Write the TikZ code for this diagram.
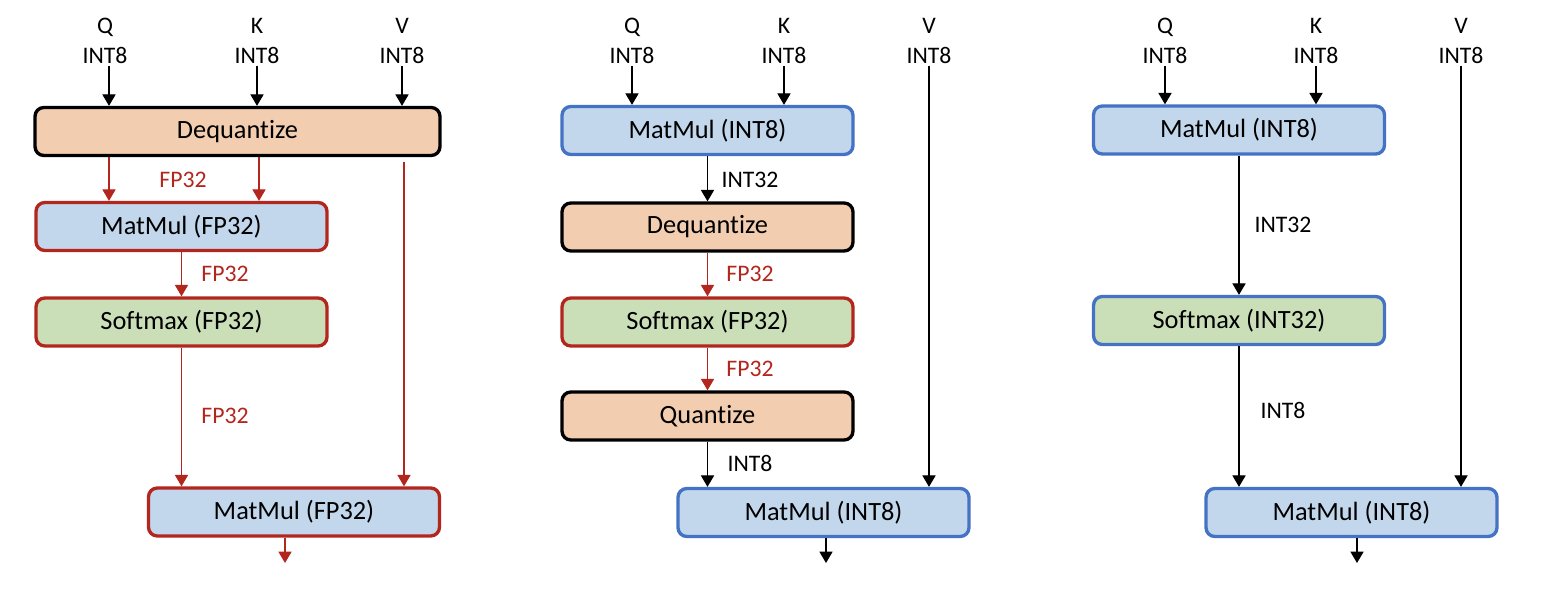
\documentclass[tikz,border=0pt]{standalone}
\usepackage{fontspec}
\setmainfont{Carlito}[Ligatures=NoCommon]
\usepackage{xcolor}
\usetikzlibrary{arrows.meta, positioning}

\definecolor{fpred}{HTML}{B3261E}
\definecolor{intblue}{HTML}{4472C4}
\definecolor{mmfill}{HTML}{C3D7EC}
\definecolor{smfill}{HTML}{CADFB8}
\definecolor{qfill}{HTML}{F2CDB0}

\begin{document}
\begin{tikzpicture}[x=0.02cm, y=-0.02cm, >={Triangle[width=7.5pt, length=6.5pt]}, line width=0.65pt,
    op/.style={rectangle, rounded corners=5pt, draw, line width=1.9pt, minimum width=5.82cm, minimum height=0.96cm, inner sep=0pt, font=\fontsize{15}{17}\selectfont},
    mm/.style={op, fill=mmfill},
    sm/.style={op, fill=smfill},
    qz/.style={op, fill=qfill, draw=black},
    fp/.style={draw=fpred},
    ib/.style={draw=intblue},
    inp/.style={align=center, inner sep=1pt, font=\fontsize{13.5}{17}\selectfont},
    lbl/.style={inner sep=0pt, font=\fontsize{13.5}{15}\selectfont}]

    \useasboundingbox (0,0) rectangle (1562,598);

    % FP32 path
    \node[inp] (Q1) at (105,41) {Q\\INT8};
    \node[inp] (K1) at (257,41) {K\\INT8};
    \node[inp] (V1) at (402,41) {V\\INT8};
    \node[qz, minimum width=8.1cm] (Deq1) at (237.5,131.5) {Dequantize};
    \node[mm, fp] (Mm1) at (181.5,226.5) {MatMul (FP32)};
    \node[sm, fp] (Sm1) at (181.5,322) {Softmax (FP32)};
    \node[mm, fp] (Mmo1) at (294,512) {MatMul (FP32)};
    \coordinate (out1) at (285,563);

    \node[lbl, text=fpred] (l11) at (183,180) {FP32};
    \node[lbl, text=fpred] (l12) at (225,274) {FP32};
    \node[lbl, text=fpred] (l13) at (225,416) {FP32};

    \path[->]
    (Q1.south -| 109,0) edge (Deq1.north -| 109,0)
    (K1.south) edge (Deq1.north -| K1)
    (V1.south) edge (Deq1.north -| V1)
    ;
    \path[->, fpred]
    (Deq1.south -| 109,0) edge (Mm1.north -| 109,0)
    (Deq1.south -| 259,0) edge (Mm1.north -| 259,0)
    (Deq1.south -| 404,0) edge[shorten <=3pt] (Mmo1.north -| 404,0)
    (Mm1.south) edge (Sm1.north)
    (Sm1.south) edge (Sm1.south |- Mmo1.north)
    (Mmo1.south -| out1) edge (out1)
    ;

    % INT8 MatMul, FP32 Softmax
    \node[inp] (Q2) at (632,41) {Q\\INT8};
    \node[inp] (K2) at (784,41) {K\\INT8};
    \node[inp] (V2) at (929,41) {V\\INT8};
    \node[mm, ib] (Mm2) at (707.5,130.5) {MatMul (INT8)};
    \node[qz] (Deq2) at (707.5,227) {Dequantize};
    \node[sm, fp] (Sm2) at (707.5,322) {Softmax (FP32)};
    \node[qz] (Qu2) at (707.5,416) {Quantize};
    \node[mm, ib] (Mmo2) at (823.5,512.5) {MatMul (INT8)};
    \coordinate (out2) at (826,563);

    \node[lbl] (l21) at (750,180) {INT32};
    \node[lbl, text=fpred] (l22) at (750,274) {FP32};
    \node[lbl, text=fpred] (l23) at (750,369) {FP32};
    \node[lbl] (l24) at (750,463) {INT8};

    \path[->]
    (Q2.south) edge (Mm2.north -| Q2)
    (K2.south) edge (Mm2.north -| K2)
    (V2.south) edge (Mmo2.north -| V2)
    (Mm2.south) edge (Deq2.north)
    (Qu2.south) edge (Qu2.south |- Mmo2.north)
    (Mmo2.south -| out2) edge (out2)
    ;
    \path[->, fpred]
    (Deq2.south) edge (Sm2.north)
    (Sm2.south) edge (Qu2.north)
    ;

    % INT8 end to end
    \node[inp] (Q3) at (1165,41) {Q\\INT8};
    \node[inp] (K3) at (1316,41) {K\\INT8};
    \node[inp] (V3) at (1461,41) {V\\INT8};
    \node[mm, ib] (Mm3) at (1239,130) {MatMul (INT8)};
    \node[sm, ib] (Sm3) at (1239,320.5) {Softmax (INT32)};
    \node[mm, ib] (Mmo3) at (1351.5,512.5) {MatMul (INT8)};
    \coordinate (out3) at (1357,563);

    \node[lbl] (l31) at (1283,225) {INT32};
    \node[lbl] (l32) at (1283,410) {INT8};

    \path[->]
    (Q3.south) edge (Mm3.north -| Q3)
    (K3.south) edge (Mm3.north -| K3)
    (V3.south) edge (Mmo3.north -| V3)
    (Mm3.south) edge (Sm3.north)
    (Sm3.south) edge (Sm3.south |- Mmo3.north)
    (Mmo3.south -| out3) edge (out3)
    ;

\end{tikzpicture}
\end{document}
